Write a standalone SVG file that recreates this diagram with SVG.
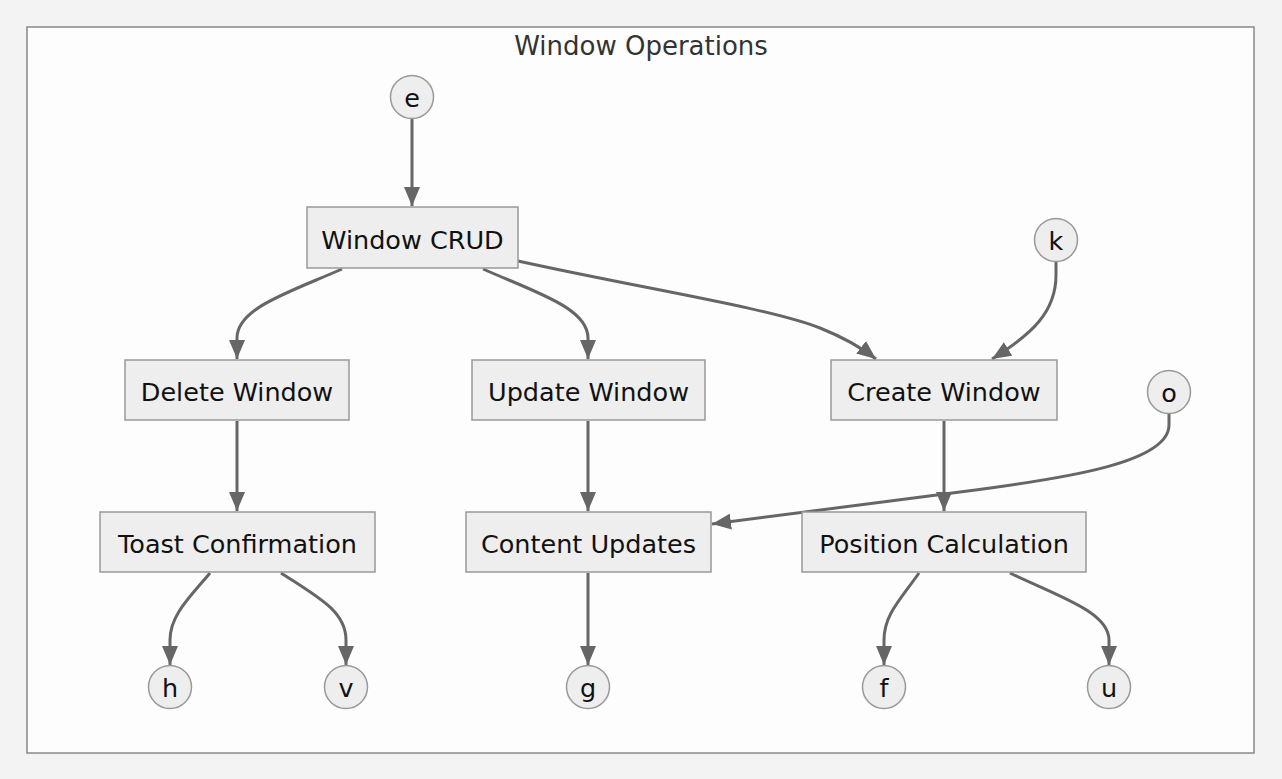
<svg xmlns="http://www.w3.org/2000/svg" width="1282" height="779" viewBox="0 0 1282 779">
<style>
.bg{fill:#f3f3f3}
.cluster{fill:#fdfdfd;stroke:#888;stroke-width:1.5}
.title{font-family:"DejaVu Sans",sans-serif;font-size:26px;fill:#333;text-anchor:middle}
.node rect,.node circle{fill:#eeeeee;stroke:#999;stroke-width:1.5}
.node text{font-family:"DejaVu Sans",sans-serif;font-size:25.5px;fill:#111;text-anchor:middle;dominant-baseline:central}
.edge{fill:none;stroke:#666;stroke-width:3}
</style>
<defs>
<marker id="arr" viewBox="0 0 10 10" refX="10" refY="5" markerUnits="userSpaceOnUse" markerWidth="19" markerHeight="16" orient="auto" preserveAspectRatio="none">
<path d="M0,0 L10,5 L0,10 z" fill="#666"/>
</marker>
</defs>
<rect class="bg" x="0" y="0" width="1282" height="779"/>
<rect class="cluster" x="27" y="27" width="1227" height="726"/>
<text class="title" x="641" y="55">Window Operations</text>
<g id="connectors">
<path class="edge" marker-end="url(#arr)" d="M412,119 L412,206"/>
<path class="edge" marker-end="url(#arr)" d="M342,269 C290,292 237,308 237,338 L237,359"/>
<path class="edge" marker-end="url(#arr)" d="M483,269 C535,292 588,308 588,338 L588,359"/>
<path class="edge" marker-end="url(#arr)" d="M518,261 C640,288 770,308 820,328 C845,338 862,348 876,359"/>
<path class="edge" marker-end="url(#arr)" d="M1056,262 L1056,275 C1056,312 1032,334 992,359"/>
<path class="edge" marker-end="url(#arr)" d="M1169,414 L1169,425 C1169,462 1070,478 960,492 L712,524"/>
<path class="edge" marker-end="url(#arr)" d="M944,421 L944,511"/>
<path class="edge" marker-end="url(#arr)" d="M237,421 L237,511"/>
<path class="edge" marker-end="url(#arr)" d="M588,421 L588,511"/>
<path class="edge" marker-end="url(#arr)" d="M210,573 C190,597 170,615 170,640 L170,665"/>
<path class="edge" marker-end="url(#arr)" d="M281,573 C320,598 346,612 346,640 L346,665"/>
<path class="edge" marker-end="url(#arr)" d="M588,573 L588,665"/>
<path class="edge" marker-end="url(#arr)" d="M919,573 C900,600 884,615 884,640 L884,665"/>
<path class="edge" marker-end="url(#arr)" d="M1010,573 C1060,597 1109,612 1109,640 L1109,665"/>
</g>
<g id="node-e" class="node"><circle cx="412" cy="97" r="21.5"/><text x="412" y="98">e</text></g>
<g id="node-crud" class="node"><rect x="307" y="207" width="211" height="61"/><text x="412.5" y="240">Window CRUD</text></g>
<g id="node-k" class="node"><circle cx="1056" cy="240" r="21.5"/><text x="1056" y="241">k</text></g>
<g id="node-delete" class="node"><rect x="125" y="360" width="224" height="60"/><text x="237" y="392">Delete Window</text></g>
<g id="node-update" class="node"><rect x="472" y="360" width="233" height="60"/><text x="588.5" y="392">Update Window</text></g>
<g id="node-create" class="node"><rect x="831" y="360" width="226" height="60"/><text x="944" y="392">Create Window</text></g>
<g id="node-o" class="node"><circle cx="1169" cy="392" r="21.5"/><text x="1169" y="393">o</text></g>
<g id="node-toast" class="node"><rect x="100" y="512" width="275" height="60"/><text x="237.5" y="544">Toast Confirmation</text></g>
<g id="node-content" class="node"><rect x="466" y="512" width="245" height="60"/><text x="588.5" y="544">Content Updates</text></g>
<g id="node-position" class="node"><rect x="802" y="512" width="284" height="60"/><text x="944" y="544">Position Calculation</text></g>
<g id="node-h" class="node"><circle cx="170" cy="687" r="21.5"/><text x="170" y="688">h</text></g>
<g id="node-v" class="node"><circle cx="346" cy="687" r="21.5"/><text x="346" y="688">v</text></g>
<g id="node-g" class="node"><circle cx="588" cy="687" r="21.5"/><text x="588" y="688">g</text></g>
<g id="node-f" class="node"><circle cx="884" cy="687" r="21.5"/><text x="884" y="688">f</text></g>
<g id="node-u" class="node"><circle cx="1109" cy="687" r="21.5"/><text x="1109" y="688">u</text></g>
</svg>
